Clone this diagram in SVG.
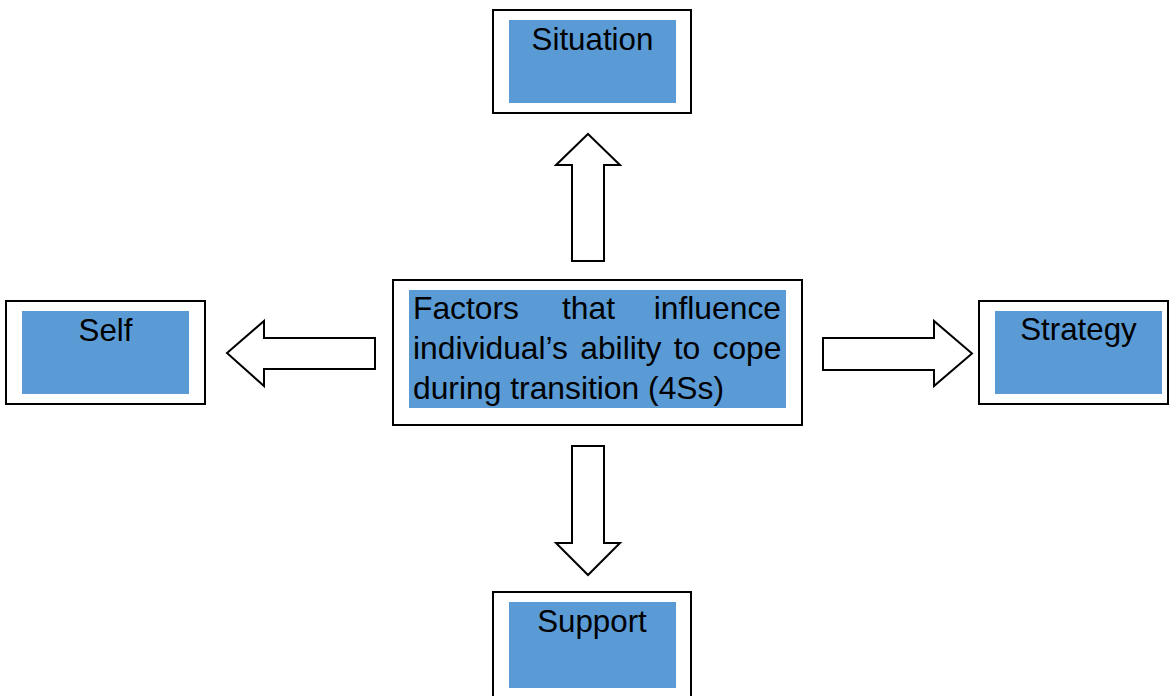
<svg xmlns="http://www.w3.org/2000/svg" width="1170" height="696" viewBox="0 0 1170 696">
  <style>
    .frame { fill: #ffffff; stroke: #000000; stroke-width: 2; }
    .panel { fill: #5B9BD5; stroke: none; }
    .label { font-family: "Liberation Sans", Arial, sans-serif; font-size: 31.3px; fill: #000000; text-anchor: middle; }
    .body { font-family: "Liberation Sans", Arial, sans-serif; font-size: 31.8px; fill: #000000; }
    .block-arrow { fill: #ffffff; stroke: #000000; stroke-width: 2; stroke-linejoin: miter; }
  </style>
  <rect width="1170" height="696" fill="#ffffff"/>

  <!-- central node -->
  <g id="factors">
    <rect class="frame" x="393" y="280" width="409" height="145"/>
    <rect class="panel" x="409" y="290" width="377" height="118"/>
    <text class="body" x="413" y="319">Factors</text>
    <text class="body" x="562" y="319">that</text>
    <text class="body" x="781" y="319" text-anchor="end">influence</text>
    <text class="body" x="413" y="359" word-spacing="3.4">individual’s ability to cope</text>
    <text class="body" x="413" y="399">during transition (4Ss)</text>
  </g>

  <g id="situation">
    <rect class="frame" x="493" y="10" width="198" height="103"/>
    <rect class="panel" x="509" y="20" width="167" height="83"/>
    <text class="label" x="592.5" y="50">Situation</text>
  </g>

  <g id="self">
    <rect class="frame" x="6" y="301" width="199" height="103"/>
    <rect class="panel" x="22" y="311" width="167" height="83"/>
    <text class="label" x="105.5" y="341">Self</text>
  </g>

  <g id="strategy">
    <rect class="frame" x="979" y="301" width="189" height="103"/>
    <rect class="panel" x="995" y="311" width="167" height="83"/>
    <text class="label" x="1078.5" y="340">Strategy</text>
  </g>

  <g id="support">
    <rect class="frame" x="493" y="592" width="198" height="110"/>
    <rect class="panel" x="509" y="602" width="167" height="86"/>
    <text class="label" x="592" y="632">Support</text>
  </g>

  <!-- block arrows from the central node -->
  <g id="connectors">
    <polygon class="block-arrow" points="588,134 620,165 604,165 604,261 572,261 572,165 556,165"/>
    <polygon class="block-arrow" points="572,446 604,446 604,543 620,543 588,575 556,543 572,543"/>
    <polygon class="block-arrow" points="227,353 264,321 264,338 375,338 375,369 264,369 264,386"/>
    <polygon class="block-arrow" points="823,338 934,338 934,321 972,353.5 934,386 934,370 823,370"/>
  </g>
</svg>
